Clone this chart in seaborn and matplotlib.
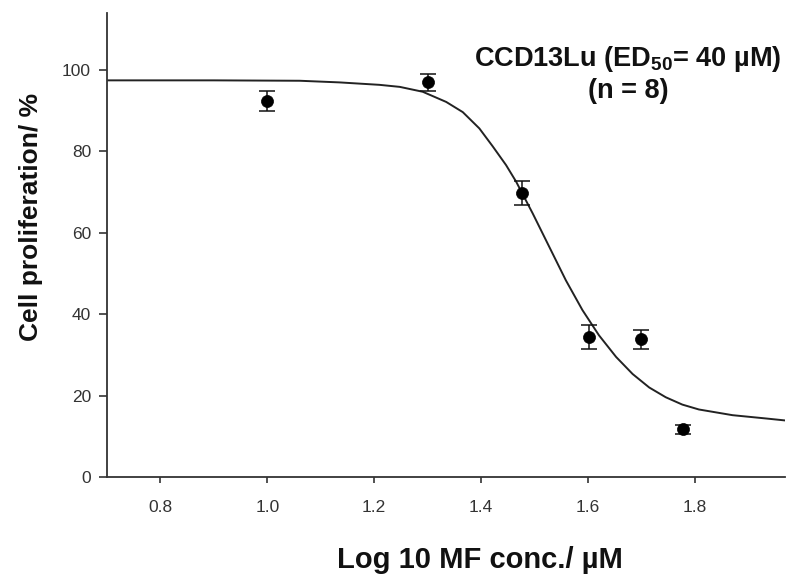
import matplotlib
matplotlib.use("Agg")
import matplotlib.pyplot as plt
import pandas as pd
import seaborn as sns

# measured points (log10 conc, % proliferation, error)
log_conc = [1.000, 1.301, 1.477, 1.602, 1.699, 1.778]
prolif = [92.3, 96.9, 69.8, 34.4, 33.8, 11.7]
prolif_err = [2.5, 2.0, 3.0, 3.0, 2.3, 1.0]

# fitted curve, points
fit_x = [0.700, 0.900, 1.061, 1.135, 1.210, 1.248, 1.291, 1.335, 1.366, 1.397,
         1.422, 1.447, 1.466, 1.497, 1.528, 1.559, 1.590, 1.621, 1.653, 1.684,
         1.715, 1.746, 1.777, 1.808, 1.871, 1.933, 1.970]
fit_y = [97.4, 97.4, 97.3, 96.9, 96.3, 95.8, 94.6, 92.1, 89.6, 85.6,
         81.2, 76.6, 72.5, 64.7, 56.5, 48.3, 41.0, 34.8, 29.5, 25.3,
         22.0, 19.6, 17.8, 16.6, 15.2, 14.4, 13.9]

x_ticks = [0.8, 1.0, 1.2, 1.4, 1.6, 1.8]
y_ticks = [0, 20, 40, 60, 80, 100]

sns.set_style("ticks")
plt.rcParams["font.family"] = ["Liberation Sans", "DejaVu Sans"]
plt.rcParams["mathtext.fontset"] = "custom"
plt.rcParams["mathtext.rm"] = "Liberation Sans"
plt.rcParams["mathtext.default"] = "regular"

points = pd.DataFrame({"x": log_conc, "y": prolif})
curve = pd.DataFrame({"x": fit_x, "y": fit_y})

fig = plt.figure(figsize=(7.87, 5.79), dpi=100)
ax = fig.add_axes([0.136, 0.176, 0.862, 0.802])

sns.lineplot(data=curve, x="x", y="y", color="#222222", linewidth=1.4, ax=ax, sort=True)
ax.errorbar(log_conc, prolif, yerr=prolif_err, fmt="none", ecolor="#111111",
            elinewidth=1.1, capsize=5.5, capthick=1.1)
sns.scatterplot(data=points, x="x", y="y", color="black", s=75, edgecolor="black",
                linewidth=0.5, ax=ax, zorder=5)

ax.set_xlim(0.7, 1.97)
ax.set_ylim(0, 114)
ax.set_xticks(x_ticks)
ax.set_xticklabels([f"{v:.1f}" for v in x_ticks])
ax.set_yticks(y_ticks)
ax.tick_params(axis="both", direction="out", length=5, width=1.2, colors="#333333",
               labelsize=12.5, labelcolor="#333333")
ax.tick_params(axis="x", length=4.5, pad=12)
ax.tick_params(axis="y", length=5.5, pad=6)

for side in ["top", "right"]:
    ax.spines[side].set_visible(False)
for side in ["left", "bottom"]:
    ax.spines[side].set_color("#333333")
    ax.spines[side].set_linewidth(1.3)

ax.set_xlabel("Log 10 MF conc./ µM", fontsize=21, fontweight="bold", color="#111111")
ax.set_ylabel("Cell proliferation/ %", fontsize=19, fontweight="bold", color="#111111")
ax.xaxis.set_label_coords(0.549, -0.148)
ax.yaxis.set_label_coords(-0.094, 0.56)

ax.text(0.768, 0.867, "CCD13Lu (ED$_{50}$= 40 µM)\n(n = 8)", transform=ax.transAxes,
        ha="center", va="center", fontsize=19.5, fontweight="bold", color="#111111",
        linespacing=1.2)

plt.savefig("out.png", dpi=100)
plt.close(fig)
